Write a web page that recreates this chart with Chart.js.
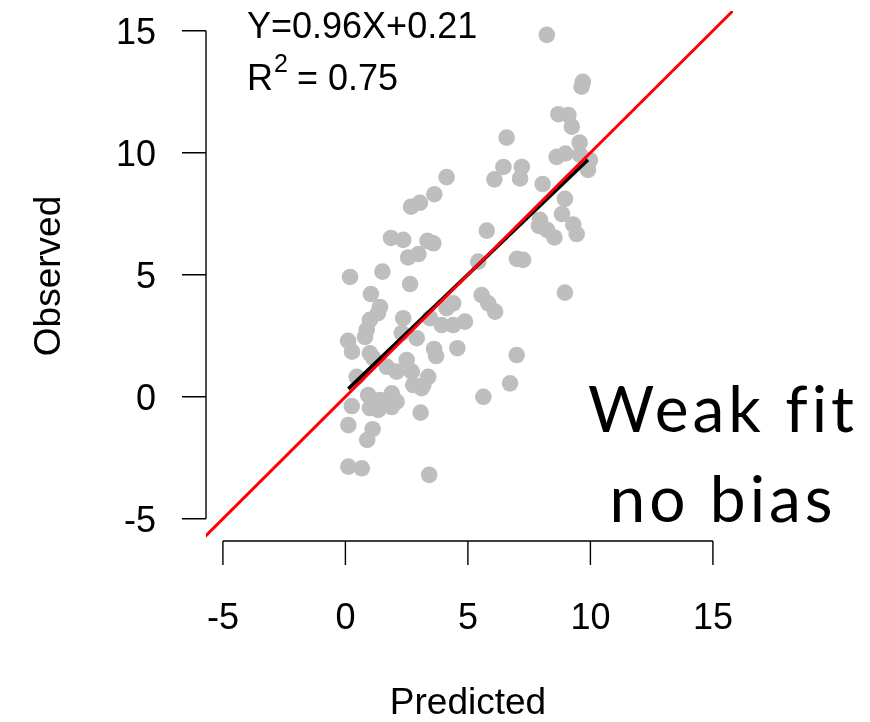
<!DOCTYPE html>
<html>
<head>
<meta charset="utf-8">
<script src="https://cdn.jsdelivr.net/npm/chart.js@4/dist/chart.umd.min.js"></script>
<style>
  html, body { margin: 0; padding: 0; background: #fff; }
</style>
</head>
<body>
<canvas id="fitCanvas" width="870" height="722"></canvas>
<script>
// values
let predicted = [
    8.22, 9.69, 9.64, 8.69, 9.10, 9.24, 6.58, 9.56, 8.62, 8.98,
    9.58, 9.98, 9.90, 6.45, 7.20, 6.08, 7.13, 8.05, 8.96, 8.84,
    7.94, 7.90, 8.23, 8.53, 9.30, 9.44, 5.77, 7.00, 7.25, 5.42,
    8.96, 5.56, 5.83, 6.11, 4.40, 4.13, 3.45, 3.93, 4.40, 4.88,
    3.62, 3.70, 4.57, 6.99, 3.38, 3.18, 6.72, 5.63, 3.07, 3.42,
    4.13, 3.63, 3.04, 2.68, 1.86, 2.36, 3.35, 3.59, 2.98, 2.56,
    1.51, 0.19, 2.64, 1.04, 1.41, 1.33, 1.00, 0.87, 0.80, 2.36,
    2.30, 0.11, 0.27, 1.00, 1.14, 2.91, 1.69, 2.09, 2.50, 2.71,
    2.77, 3.11, 0.46, 0.93, 1.41, 1.89, 2.09, 1.00, 1.34, 1.89,
    0.26, 0.12, 1.11, 0.89, 0.12, 0.67
];
let observed = [
    14.83, 12.91, 12.71, 11.58, 11.55, 11.07, 10.62, 10.42, 9.83, 9.97,
    9.91, 9.70, 9.30, 9.42, 9.42, 8.91, 8.95, 8.72, 8.11, 7.49,
    7.25, 7.00, 6.84, 6.53, 7.06, 6.67, 6.81, 5.65, 5.61, 5.54,
    4.27, 4.17, 3.83, 3.49, 3.83, 3.63, 3.22, 2.94, 2.94, 3.08,
    1.96, 1.67, 1.99, 1.71, 0.82, 0.48, 0.55, 0.00, -0.65, -3.20,
    9.00, 8.30, 7.95, 7.79, 6.51, 6.43, 6.39, 6.29, 5.85, 5.71,
    5.13, 4.91, 4.62, 4.21, 3.68, 3.43, 3.15, 2.74, 2.45, 3.22,
    2.61, 2.29, 1.85, 1.78, 1.58, 2.40, 1.23, 1.03, 1.51, 1.03,
    0.48, 0.35, 0.82, 0.07, -0.13, 0.14, -0.20, -0.46, -0.54, -0.42,
    -0.38, -1.16, -1.33, -1.77, -2.86, -2.93
];
let tickValues = [-5, 0, 5, 10, 15];
let fitSlope = 0.96;
let fitIntercept = 0.21;
let fitRange = [0.12, 9.9];
let identityRange = [-6, 16];
let axisTitles = ["Predicted", "Observed"];
let noteLines = ["Weak fit", "no bias"];

let points = predicted.map(function (p, i) { return { x: p, y: observed[i] }; });
let fitLine = fitRange.map(function (x) { return { x: x, y: fitSlope * x + fitIntercept }; });
let identityLine = identityRange.map(function (v) { return { x: v, y: v }; });

let rFont = '"Liberation Sans", Arial, sans-serif';

// R style axes, labels and notes
let rAxes = {
    id: 'rAxes',
    afterDraw: function (chart) {
        let c = chart.ctx;
        let xs = chart.scales.x, ys = chart.scales.y;
        let area = chart.chartArea;
        c.save();
        c.strokeStyle = '#000';
        c.fillStyle = '#000';
        c.lineWidth = 1.4;

        // x axis
        let ax = area.bottom;
        c.beginPath();
        c.moveTo(xs.getPixelForValue(tickValues[0]), ax);
        c.lineTo(xs.getPixelForValue(tickValues[tickValues.length - 1]), ax);
        tickValues.forEach(function (t) {
            let px = xs.getPixelForValue(t);
            c.moveTo(px, ax);
            c.lineTo(px, ax + 24);
        });
        c.stroke();

        // y axis
        let ay = area.left;
        c.beginPath();
        c.moveTo(ay, ys.getPixelForValue(tickValues[0]));
        c.lineTo(ay, ys.getPixelForValue(tickValues[tickValues.length - 1]));
        tickValues.forEach(function (t) {
            let py = ys.getPixelForValue(t);
            c.moveTo(ay, py);
            c.lineTo(ay - 24, py);
        });
        c.stroke();

        c.font = '36px ' + rFont;
        c.textAlign = 'center';
        c.textBaseline = 'alphabetic';
        tickValues.forEach(function (t) {
            c.fillText(String(t), xs.getPixelForValue(t), 629);
        });
        c.textAlign = 'right';
        tickValues.forEach(function (t) {
            c.fillText(String(t), 156, ys.getPixelForValue(t) + 13);
        });

        // axis titles
        c.font = '37px ' + rFont;
        c.textAlign = 'center';
        c.fillText(axisTitles[0], 468, 714);
        c.save();
        c.translate(60, 276);
        c.rotate(-Math.PI / 2);
        c.fillText(axisTitles[1], 0, 0);
        c.restore();

        // fit equation
        c.font = '36px ' + rFont;
        c.textAlign = 'left';
        let eq = 'Y=' + fitSlope.toFixed(2) + 'X+' + fitIntercept.toFixed(2);
        c.fillText(eq, 247, 38);
        c.fillText('R', 247, 90);
        let rw = c.measureText('R').width;
        c.font = '25px ' + rFont;
        c.fillText('2', 247 + rw + 1, 72);
        c.font = '36px ' + rFont;
        c.fillText('= 0.75', 297, 90);

        // note
        c.font = '64px Lato, "Open Sans", sans-serif';
        c.letterSpacing = '4px';
        c.textAlign = 'center';
        c.fillText(noteLines[0], 723, 432);
        c.fillText(noteLines[1], 723, 522);
        c.restore();
    }
};

let data = {
    datasets: [
        {
            data: identityLine,
            showLine: true,
            borderColor: '#ff0000',
            borderWidth: 3,
            pointRadius: 0,
            clip: 0,
            order: 0
        },
        {
            data: fitLine,
            showLine: true,
            borderColor: '#000000',
            borderWidth: 3.6,
            pointRadius: 0,
            order: 1
        },
        {
            data: points,
            backgroundColor: '#bebebe',
            borderWidth: 0,
            pointRadius: 8.3,
            order: 2
        }
    ]
};

let options = {
    responsive: false,
    animation: false,
    layout: {
        padding: { left: 206, right: 137, top: 11, bottom: 181 }
    },
    scales: {
        x: { type: 'linear', min: -5.69, max: 15.82, display: false },
        y: { type: 'linear', min: -5.91, max: 15.81, display: false }
    },
    plugins: {
        legend: { display: false },
        tooltip: { enabled: false }
    }
};

var fitChart = new Chart(document.getElementById('fitCanvas'), {
    type: 'scatter',
    data: data,
    options: options,
    plugins: [rAxes]
});
</script>
</body>
</html>
